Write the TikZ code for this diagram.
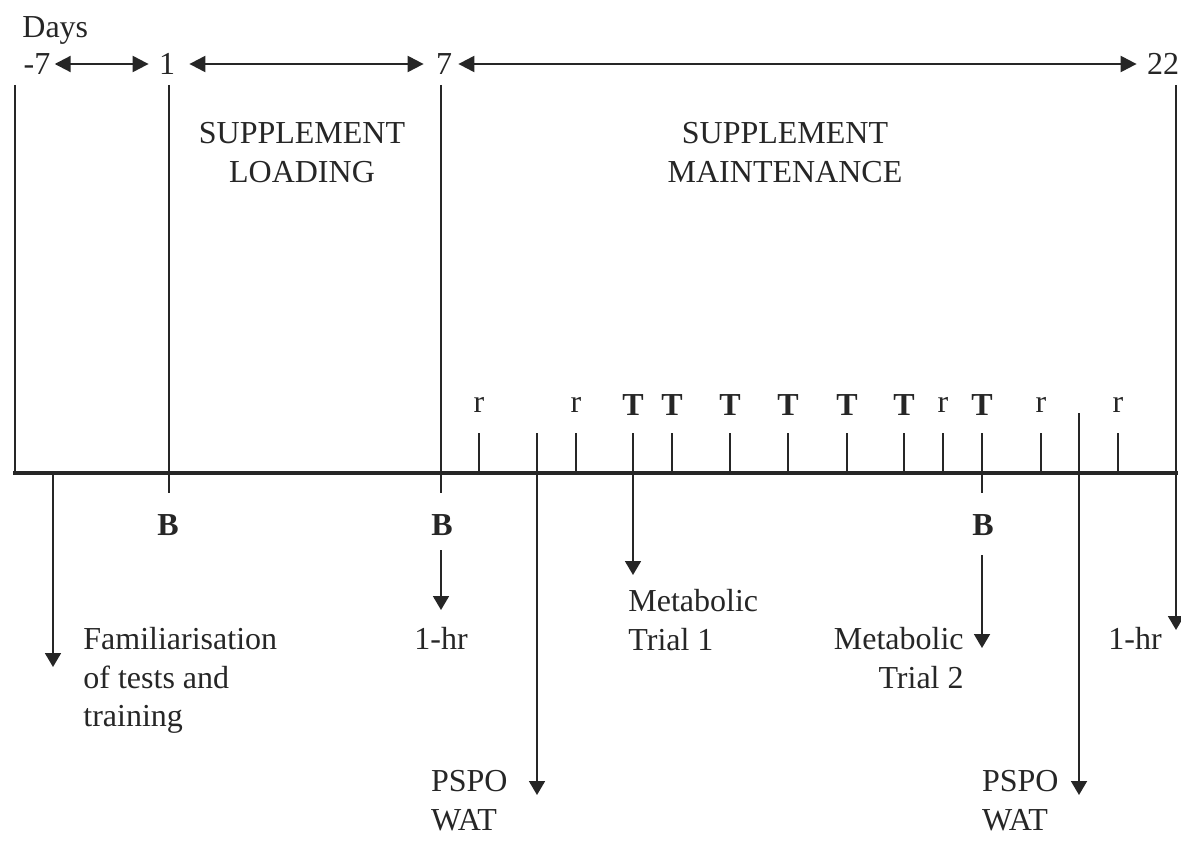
\documentclass[tikz,border=0pt]{standalone}
\usepackage{fontspec}
\setmainfont{Liberation Serif}
\usetikzlibrary{arrows.meta}
\begin{document}
\begin{tikzpicture}[x=0.5pt,y=-0.5pt,
  lbl/.style={inner sep=0pt, text=black!85, font=\fontsize{16}{19.3}\selectfont},
  blbl/.style={lbl, font=\fontsize{16}{19.3}\selectfont\bfseries},
  vline/.style={line width=1pt, draw=black!85},
  axis/.style={line width=1.6pt, draw=black!85},
  darr/.style={line width=0.9pt, draw=black!85, -{Triangle[length=7pt,width=8pt]}},
  harr/.style={line width=1.1pt, draw=black!85, {Triangle[length=8pt,width=8pt]}-{Triangle[length=8pt,width=8pt]}},
]
\useasboundingbox (0,0) rectangle (1181,840);
% top day labels
\node[lbl, anchor=west] (days) at (22,30) {Days};
\node[lbl] (dm7) at (37,64) {-7};
\node[lbl] (d1) at (167,64) {1};
\node[lbl] (d7) at (444,64) {7};
\node[lbl] (d22) at (1163,64) {22};
\draw[harr, shorten <=2pt, shorten >=5pt] (dm7) -- (d1);
\draw[harr, shorten <=7pt, shorten >=6pt] (d1) -- (d7);
\draw[harr, shorten <=3pt, shorten >=5pt] (d7) -- (d22);
% phase labels
\node[lbl, align=center, anchor=north] (load) at (302,122) {SUPPLEMENT\\LOADING};
\node[lbl, align=center, anchor=north] (maint) at (785,122) {SUPPLEMENT\\MAINTENANCE};
% main vertical lines
\coordinate (v0t) at (15,85);   \coordinate (v0b) at (15,473);
\coordinate (v1t) at (169,85);  \coordinate (v1b) at (169,493);
\coordinate (v7t) at (441,85);  \coordinate (v7b) at (441,493);
\draw[vline] (v0t) -- (v0b);
\draw[vline] (v1t) -- (v1b);
\draw[vline] (v7t) -- (v7b);
% axis
\coordinate (axl) at (13,473); \coordinate (axr) at (1178,473);
\draw[axis] (axl) -- (axr);
% ticks with labels
\foreach \x/\l in {479/r, 576/r, 943/r, 1041/r, 1118/r}{
  \coordinate (tk\x) at (\x,433);
  \coordinate (tb\x) at (\x,473);
  \draw[vline] (tk\x) -- (tb\x);
  \node[lbl] (lab\x) at (\x,405) {\l};
}
\foreach \x/\l in {633/T, 672/T, 730/T, 788/T, 847/T, 904/T, 982/T}{
  \coordinate (tk\x) at (\x,433);
  \coordinate (tb\x) at (\x,473);
  \draw[vline] (tk\x) -- (tb\x);
  \node[blbl] (lab\x) at (\x,405) {\l};
}
% B tick below axis at 982
\coordinate (v22b) at (982,493);
\draw[vline] (tb982) -- (v22b);
% B labels
\node[blbl] (B1) at (168,525) {B};
\node[blbl] (B2) at (442,525) {B};
\node[blbl] (B3) at (983,525) {B};
% familiarisation
\coordinate (fam0) at (53,473); \coordinate (famtip) at (53,667);
\draw[darr] (fam0) -- (famtip);
\node[lbl, align=left, anchor=north west] (fam) at (83,627) {Familiarisation\\of tests and\\training};
% 1-hr after B at day 7
\node[lbl, anchor=base] (hr1) at (441,649) {1-hr};
\coordinate (b2s) at (441,550); \coordinate (b2e) at (441,610);
\draw[darr] (b2s) -- (b2e);
% metabolic trial 1
\coordinate (mt1tip) at (633,575);
\draw[darr] (tb633) -- (mt1tip);
\node[lbl, align=left, anchor=north west] (mt1) at (628,589) {Metabolic\\Trial 1};
% metabolic trial 2
\coordinate (b3s) at (982,555); \coordinate (b3e) at (982,648);
\draw[darr] (b3s) -- (b3e);
\node[lbl, align=right, anchor=north east] (mt2) at (964,627) {Metabolic\\Trial 2};
% final 1-hr
\coordinate (rtop) at (1176,85); \coordinate (rtip) at (1176,630);
\draw[darr, line width=1pt] (rtop) -- (rtip);
\node[lbl, anchor=base] (hr2) at (1135,649) {1-hr};
% PSPO / WAT arrows
\coordinate (p1t) at (537,433); \coordinate (p1e) at (537,795);
\draw[darr] (p1t) -- (p1e);
\node[lbl, align=left, anchor=north east] (pspo1) at (508,770) {PSPO\\WAT};
\coordinate (p2t) at (1079,413); \coordinate (p2e) at (1079,795);
\draw[darr] (p2t) -- (p2e);
\node[lbl, align=left, anchor=north east] (pspo2) at (1059,770) {PSPO\\WAT};
\end{tikzpicture}
\end{document}
